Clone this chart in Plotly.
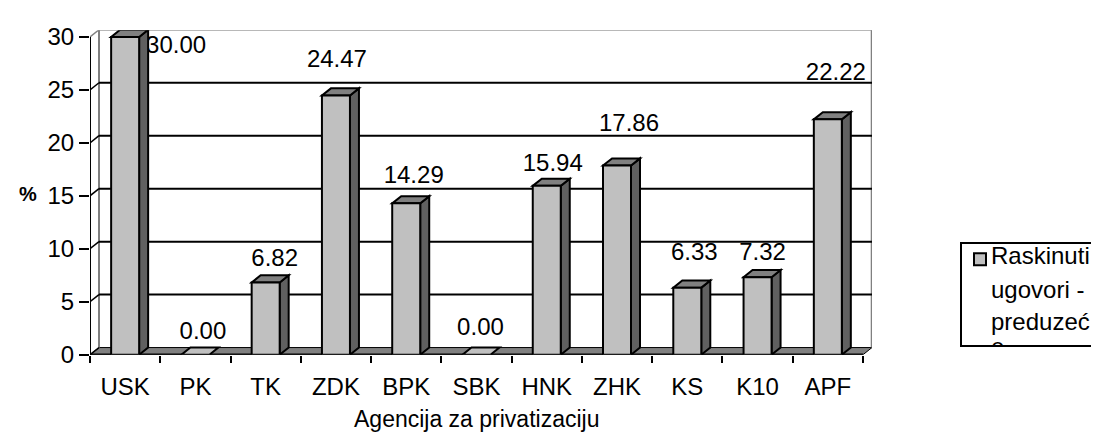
import plotly.graph_objects as go

# ---------------- data ----------------
categories = ["USK", "PK", "TK", "ZDK", "BPK", "SBK", "HNK", "ZHK", "KS", "K10", "APF"]
values = [30.00, 0.00, 6.82, 24.47, 14.29, 0.00, 15.94, 17.86, 6.33, 7.32, 22.22]
y_ticks = [0, 5, 10, 15, 20, 25, 30]
legend_lines = ["Raskinuti", "ugovori -", "preduzeć", "e"]
x_title = "Agencija za privatizaciju"
y_title = "%"

# ---------------- style ----------------
label_dx = [51, 7.5, 9, 1, 7.5, 4, 6, 12, 7, 5, 8]        # px shift of value labels
label_dy = [-11, 23, 24, 36, 28, 27, 22, 42.6, 35, 24, 48]  # px shift (up) of value labels

FONT = "Arial, Liberation Sans, sans-serif"
W, H = 1099, 437
PL, PR, PT, PB = 82, 864, 16, 356       # plot area in px
PXX = 70.27                              # px per category
PYY = 11.1                               # px per y unit
DX_PX, DY_PX = 9, 7.5                    # 3D depth offsets
BAR_PX = 28

n = len(categories)
x_max = (PR - PL) / PXX
y_max = (PB - PT) / PYY
dxu = DX_PX / PXX
dyu = DY_PX / PYY
bw = BAR_PX / PXX
ymax_tick = max(y_ticks)

FRONT = "#C0C0C0"
SIDE = "#606060"
TOPC = "#808080"
WALL = "#808080"

shapes = []


def line(x0, y0, x1, y1, color="black", width=2, layer="below"):
    shapes.append(dict(type="line", xref="x", yref="y", x0=x0, y0=y0, x1=x1, y1=y1,
                       line=dict(color=color, width=width), layer=layer))


def poly(pts, fill, width=2, layer="above"):
    p = "M " + " L ".join(f"{x},{y}" for x, y in pts) + " Z"
    shapes.append(dict(type="path", xref="x", yref="y", path=p, fillcolor=fill,
                       line=dict(color="black", width=width), layer=layer))


# floor
poly([(0, 0), (n, 0), (n + dxu, dyu), (dxu, dyu)], "#808080", width=1, layer="below")
# back wall border
line(dxu, ymax_tick + dyu, n + dxu, ymax_tick + dyu, WALL, 2)
line(n + dxu, dyu, n + dxu, ymax_tick + dyu, WALL, 2.5)
line(dxu, dyu, dxu, ymax_tick + dyu, WALL, 2)
line(0, ymax_tick, dxu, ymax_tick + dyu, WALL, 1.5)
# gridlines + stubs
for v in y_ticks:
    if 0 < v < ymax_tick:
        line(dxu, v + dyu, n + dxu, v + dyu, "black", 2)
        line(0, v, dxu, v + dyu, "black", 1.5)
line(0, 0, dxu, dyu, "black", 1.5)
# axis lines
line(0, 0, 0, ymax_tick, "black", 2)
line(0, 0, n, 0, "black", 2.5)

# bars
for i, v in enumerate(values):
    c = i + 0.5
    x0, x1 = c - bw / 2, c + bw / 2
    if v > 0:
        poly([(x1, 0), (x1 + dxu, dyu), (x1 + dxu, v + dyu), (x1, v)], SIDE)
        poly([(x0, v), (x1, v), (x1 + dxu, v + dyu), (x0 + dxu, v + dyu)], TOPC)
        poly([(x0, 0), (x1, 0), (x1, v), (x0, v)], FRONT)
    else:
        poly([(x0, 0), (x1, 0), (x1 + dxu, dyu), (x0 + dxu, dyu)], FRONT)

fig = go.Figure()

# value labels
fig.add_trace(go.Scatter(
    x=[i + 0.5 + label_dx[i] / PXX for i in range(n)],
    y=[v + label_dy[i] / PYY for i, v in enumerate(values)],
    mode="text", text=[f"{v:.2f}" for v in values],
    textposition="middle center", textfont=dict(family=FONT, size=24, color="black"),
    cliponaxis=False, hoverinfo="skip", showlegend=False, xaxis="x", yaxis="y"))

# invisible trace for category-label axis
fig.add_trace(go.Scatter(x=[0.5], y=[0], mode="markers", marker=dict(opacity=0),
                         hoverinfo="skip", showlegend=False, xaxis="x2", yaxis="y"))

# legend subplot
LX0, LT, LB = 954, 239, 347
fig.add_trace(go.Scatter(x=[18], y=[17], mode="markers",
                         marker=dict(symbol="square", size=12, color=FRONT,
                                     line=dict(color="black", width=2)),
                         hoverinfo="skip", showlegend=False, xaxis="x3", yaxis="y3"))
fig.add_trace(go.Scatter(x=[29] * len(legend_lines), y=[16, 51, 85, 111],
                         mode="text", text=legend_lines, textposition="middle right",
                         textfont=dict(family=FONT, size=24, color="black"),
                         cliponaxis=True, hoverinfo="skip", showlegend=False,
                         xaxis="x3", yaxis="y3"))
shapes.append(dict(type="rect", xref="paper", yref="paper",
                   x0=(LX0 - 1) / W, x1=1.02, y0=(H - LB) / H, y1=(H - LT) / H,
                   line=dict(color="black", width=2), fillcolor="rgba(0,0,0,0)"))

fig.update_layout(
    width=W, height=H, autosize=False,
    margin=dict(l=0, r=0, t=0, b=0),
    paper_bgcolor="white", plot_bgcolor="white",
    font=dict(family=FONT, size=24, color="black"),
    shapes=shapes,
    xaxis=dict(domain=[PL / W, PR / W], range=[0, x_max], showgrid=False, zeroline=False,
               showline=False, tickvals=list(range(n + 1)), ticktext=[""] * (n + 1),
               ticks="outside", ticklen=7, tickwidth=2, tickcolor="black"),
    xaxis2=dict(overlaying="x", anchor="y", side="bottom", range=[0, x_max],
                showgrid=False, zeroline=False, showline=False,
                tickvals=[i + 0.5 for i in range(n)], ticktext=categories,
                ticks="outside", ticklen=10, tickcolor="rgba(0,0,0,0)",
                tickfont=dict(family=FONT, size=24, color="black")),
    yaxis=dict(domain=[(H - PB) / H, (H - PT) / H], range=[0, y_max], showgrid=False,
               zeroline=False, showline=False, tickvals=y_ticks,
               ticktext=[str(t) for t in y_ticks], ticks="outside", ticklen=10,
               tickwidth=2, tickcolor="black",
               tickfont=dict(family=FONT, size=24, color="black")),
    xaxis3=dict(domain=[LX0 / W, 1], range=[0, W - LX0], visible=False, anchor="y3"),
    yaxis3=dict(domain=[(H - LB) / H, (H - LT) / H], range=[LB - LT, 0], visible=False,
                anchor="x3"),
    annotations=[
        dict(text=f"<b>{y_title}</b>", x=20 / W, y=(H - 188) / H, xref="paper", yref="paper",
             xanchor="center", yanchor="middle",
             showarrow=False, font=dict(family=FONT, size=20, color="black")),
        dict(text=x_title, x=468 / W, y=(H - 423) / H, xref="paper", yref="paper",
             xanchor="center", yanchor="middle",
             showarrow=False, font=dict(family=FONT, size=23, color="black")),
    ],
)

fig.write_html("out.html")
